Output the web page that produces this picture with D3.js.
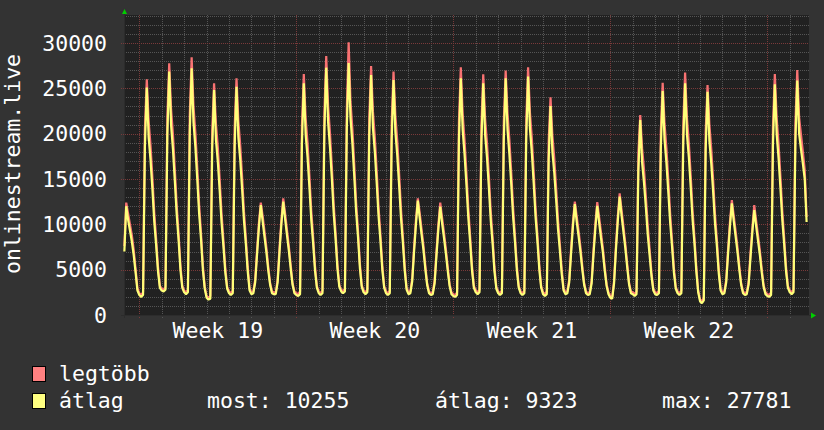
<!DOCTYPE html>
<html>
<head>
<meta charset="utf-8">
<script src="https://cdn.jsdelivr.net/npm/d3@7"></script>
<style>
  body { margin: 0; background: #333333; }
  svg { display: block; font-family: "DejaVu Sans Mono", monospace; }
</style>
</head>
<body>
<div id="chart"></div>
<script>
// time window of the graph and the sampling of the series (2 h steps)
const viewStart = Date.UTC(2015, 4, 3, 7, 37);
const viewEnd = Date.UTC(2015, 5, 2, 20, 34);
const seriesStart = Date.UTC(2015, 4, 3, 8, 0);
const stepHours = 2;

// "legtöbb" = max, one line per day (00h..22h, every 2 h)
const legtobb = [
  7600, 12400, 11200, 10000, 8800, 7200, 5100, 2900,                            // May 3 (from 08h)
  2400, 2200, 2500, 20600, 26000, 21400, 18700, 15200, 11300, 8400, 5300, 3200, // May 4
  2900, 2800, 3100, 21900, 27760, 22700, 19900, 16100, 12100, 9000, 5500, 3200, // May 5
  2700, 2500, 2800, 22100, 28420, 23000, 20100, 16300, 12200, 9100, 5500, 3100, // May 6
  2100, 1900, 2100, 20400, 25550, 21100, 18500, 15000, 11200, 8300, 5200, 3100, // May 7
  2600, 2400, 2700, 20600, 26100, 21400, 18700, 15200, 11400, 8500, 5300, 2900, // May 8
  2500, 2600, 3900, 7200, 10200, 12390, 10900, 9200, 7400, 5300, 3500, 2600,    // May 9
  2500, 2500, 3900, 7400, 10500, 12870, 11200, 9400, 7600, 5500, 3500, 2600,    // May 10
  2400, 2300, 2600, 20900, 26580, 21700, 19000, 15400, 11500, 8600, 5400, 3200, // May 11
  2600, 2400, 2700, 22200, 28570, 23100, 20100, 16400, 12200, 9100, 5600, 3300, // May 12
  2800, 2600, 2900, 22600, 30080, 23500, 20500, 16600, 12400, 9300, 5700, 3300, // May 13
  2700, 2500, 2800, 21600, 27460, 22400, 19600, 15900, 11900, 8900, 5500, 3200, // May 14
  2600, 2400, 2700, 21200, 26840, 22000, 19200, 15600, 11700, 8700, 5400, 3000, // May 15
  2500, 2600, 4000, 7500, 10500, 12870, 11300, 9500, 7700, 5500, 3500, 2600,    // May 16
  2400, 2500, 3800, 7100, 10000, 12390, 10700, 9100, 7300, 5300, 3400, 2500,    // May 17
  2300, 2200, 2500, 21300, 27310, 22200, 19300, 15700, 11800, 8700, 5400, 3200, // May 18
  2700, 2500, 2800, 20900, 26540, 21700, 19000, 15400, 11500, 8600, 5300, 3100, // May 19
  2600, 2400, 2700, 21300, 26950, 22200, 19300, 15700, 11800, 8700, 5400, 3200, // May 20
  2600, 2400, 2700, 21500, 27310, 22300, 19500, 15800, 11800, 8800, 5500, 3200, // May 21
  2500, 2300, 2600, 19100, 24010, 19800, 17300, 14000, 10500, 7800, 5000, 2900, // May 22
  2500, 2600, 3900, 7300, 10300, 12500, 10900, 9300, 7500, 5400, 3500, 2600,    // May 23
  2400, 2500, 3800, 7200, 10100, 12450, 10800, 9100, 7400, 5300, 3400, 2500,    // May 24
  2100, 2000, 3800, 7700, 10900, 13420, 11600, 9800, 7900, 5700, 3600, 2600,    // May 25
  2500, 2300, 2600, 17900, 22060, 18400, 16100, 13100, 9900, 7300, 4700, 2900,  // May 26
  2500, 2400, 2700, 20300, 25620, 21100, 18400, 14900, 11200, 8300, 5200, 3100, // May 27
  2600, 2400, 2700, 20900, 26730, 21700, 19000, 15400, 11500, 8600, 5300, 2700, // May 28
  1700, 1500, 1900, 20200, 25370, 21000, 18300, 14900, 11100, 8300, 5100, 2900, // May 29
  2500, 2600, 3900, 7300, 10300, 12680, 11000, 9300, 7500, 5400, 3500, 2600,    // May 30
  2400, 2500, 3700, 6900, 9700, 12130, 10400, 8800, 7100, 5100, 3300, 2500,     // May 31
  2300, 2200, 2500, 20800, 26580, 21700, 18900, 15300, 11500, 8500, 5300, 3200, // Jun 1
  2700, 2500, 2800, 21100, 27020, 21800, 19900, 18000, 16000, 10800             // Jun 2 (to 18h)
];

// "átlag" = average
const atlag = [
  7000, 12000, 10500, 9300, 8100, 6600, 4700, 2700,                             // May 3 (from 08h)
  2200, 2000, 2200, 18600, 25100, 19600, 17100, 13900, 10300, 7700, 4800, 3000, // May 4
  2700, 2600, 2800, 19900, 26840, 20900, 18300, 14800, 11100, 8300, 5000, 3000, // May 5
  2500, 2300, 2500, 20100, 27200, 21200, 18500, 15000, 11200, 8400, 5000, 2900, // May 6
  1900, 1700, 1800, 18400, 24800, 19300, 16900, 13700, 10200, 7600, 4700, 2900, // May 7
  2400, 2200, 2400, 18600, 25180, 19600, 17100, 13900, 10400, 7800, 4800, 2700, // May 8
  2300, 2400, 3600, 6700, 9700, 12130, 10300, 8600, 6900, 4900, 3300, 2400,     // May 9
  2300, 2300, 3600, 6900, 10000, 12500, 10600, 8800, 7100, 5100, 3300, 2400,    // May 10
  2200, 2100, 2300, 18900, 25550, 19900, 17400, 14100, 10500, 7900, 4900, 3000, // May 11
  2400, 2200, 2400, 20200, 27280, 21300, 18500, 15100, 11200, 8400, 5100, 3100, // May 12
  2600, 2400, 2600, 20600, 27781, 21700, 18900, 15300, 11400, 8600, 5200, 3100, // May 13
  2500, 2300, 2500, 19600, 26470, 20600, 18000, 14600, 10900, 8200, 5000, 3000, // May 14
  2400, 2200, 2400, 19200, 25920, 20200, 17600, 14300, 10700, 8000, 4900, 2800, // May 15
  2300, 2400, 3700, 7000, 10000, 12610, 10700, 8900, 7200, 5100, 3300, 2400,    // May 16
  2200, 2300, 3500, 6600, 9500, 11950, 10100, 8500, 6800, 4900, 3200, 2300,     // May 17
  2100, 2000, 2200, 19300, 26100, 20400, 17700, 14400, 10800, 8000, 4900, 3000, // May 18
  2500, 2300, 2500, 18900, 25550, 19900, 17400, 14100, 10500, 7900, 4800, 2900, // May 19
  2400, 2200, 2400, 19300, 26100, 20400, 17700, 14400, 10800, 8000, 4900, 3000, // May 20
  2400, 2200, 2400, 19500, 26290, 20500, 17900, 14500, 10800, 8100, 5000, 3000, // May 21
  2300, 2100, 2300, 17100, 23050, 18000, 15700, 12700, 9500, 7100, 4500, 2700,  // May 22
  2300, 2400, 3600, 6800, 9800, 12240, 10300, 8700, 7000, 5000, 3300, 2400,     // May 23
  2200, 2300, 3500, 6700, 9600, 12050, 10200, 8500, 6900, 4900, 3200, 2300,     // May 24
  1900, 1800, 3500, 7200, 10400, 13050, 11000, 9200, 7400, 5300, 3400, 2400,    // May 25
  2300, 2100, 2300, 15900, 21510, 16800, 14600, 11900, 8900, 6600, 4300, 2700,  // May 26
  2300, 2200, 2400, 18300, 24710, 19300, 16800, 13600, 10200, 7600, 4700, 2900, // May 27
  2400, 2200, 2400, 18900, 25550, 19900, 17400, 14100, 10500, 7900, 4800, 2500, // May 28
  1500, 1300, 1600, 18200, 24630, 19200, 16700, 13600, 10100, 7600, 4600, 2700, // May 29
  2300, 2400, 3600, 6800, 9800, 12320, 10400, 8700, 7000, 5000, 3300, 2400,     // May 30
  2200, 2300, 3400, 6400, 9200, 11580, 9800, 8200, 6600, 4700, 3100, 2300,      // May 31
  2100, 2000, 2200, 18800, 25450, 19900, 17300, 14000, 10500, 7800, 4800, 3000, // Jun 1
  2500, 2300, 2500, 19100, 25850, 20000, 18300, 16700, 15000, 10255             // Jun 2 (to 18h)
];

const yLabelValues = [0, 5000, 10000, 15000, 20000, 25000, 30000];
const seriesNames = ["legtöbb", "átlag"];
const seriesColors = ["#ff8080", "#ffff80"];
const lineColors = ["#f87272", "#ffff78"];
const statNames = ["most", "átlag", "max"];
const statValues = [10255, 9323, 27781];

const W = 824, H = 430;
const plot = {left: 124, right: 809, top: 15, bottom: 315};

const svg = d3.select("#chart").append("svg")
    .attr("width", W)
    .attr("height", H);

svg.append("rect").attr("width", W).attr("height", H).attr("fill", "#333333");
svg.append("rect")
    .attr("x", plot.left).attr("y", plot.top)
    .attr("width", plot.right - plot.left).attr("height", plot.bottom - plot.top)
    .attr("fill", "#212121");

const x = d3.scaleUtc().domain([viewStart, viewEnd]).range([plot.left, plot.right]);
const y = d3.scaleLinear().domain([0, 30000]).range([plot.bottom, 43]);

const yTop = y.invert(plot.top);
const px = v => Math.round(v) + 0.5;

// horizontal grid
const grid = svg.append("g").attr("shape-rendering", "crispEdges");
const minorY = d3.range(1000, yTop, 1000).filter(v => v % 5000 !== 0);
const majorY = d3.range(5000, yTop, 5000);

grid.selectAll("line.hmin").data(minorY).join("line")
    .attr("x1", plot.left).attr("x2", plot.right)
    .attr("y1", d => px(y(d))).attr("y2", d => px(y(d)))
    .attr("stroke", "#555555").attr("stroke-dasharray", "1,1");

// vertical grid: days and weeks
const days = d3.utcDay.range(new Date(viewStart), new Date(viewEnd));
const mondays = d3.utcMonday.range(new Date(viewStart), new Date(viewEnd));
const isMonday = d => d.getUTCDay() === 1;

grid.selectAll("line.vmin").data(days.filter(d => !isMonday(d))).join("line")
    .attr("x1", d => px(x(d))).attr("x2", d => px(x(d)))
    .attr("y1", plot.top).attr("y2", plot.bottom + 3)
    .attr("stroke", "#555555").attr("stroke-dasharray", "1,1");

grid.selectAll("line.hmaj").data(majorY).join("line")
    .attr("x1", plot.left - 3).attr("x2", plot.right)
    .attr("y1", d => px(y(d))).attr("y2", d => px(y(d)))
    .attr("stroke", "#7a3a3a").attr("stroke-dasharray", "1,1");

grid.selectAll("line.vmaj").data(mondays).join("line")
    .attr("x1", d => px(x(d))).attr("x2", d => px(x(d)))
    .attr("y1", plot.top).attr("y2", plot.bottom + 3)
    .attr("stroke", "#7a3a3a").attr("stroke-dasharray", "1,1");

// axis lines
grid.append("line")
    .attr("x1", plot.left - 3).attr("x2", plot.right + 2)
    .attr("y1", plot.bottom + 0.5).attr("y2", plot.bottom + 0.5)
    .attr("stroke", "#2c2c2c");
grid.append("line")
    .attr("x1", plot.left + 0.5).attr("x2", plot.left + 0.5)
    .attr("y1", plot.top - 2).attr("y2", plot.bottom + 3)
    .attr("stroke", "#2c2c2c");

// arrows
svg.append("path")
    .attr("d", `M${plot.left - 2},${plot.top - 1}L${plot.left + 3},${plot.top - 1}L${plot.left + 0.5},${plot.top - 6}Z`)
    .attr("fill", "#00d000");
svg.append("path")
    .attr("d", `M${plot.right + 2},${plot.bottom - 2.5}L${plot.right + 2},${plot.bottom + 3.5}L${plot.right + 7},${plot.bottom + 0.5}Z`)
    .attr("fill", "#00d000");

// y labels
svg.append("g").selectAll("text").data(yLabelValues).join("text")
    .attr("x", 107).attr("y", d => y(d) + 7.5)
    .attr("text-anchor", "end")
    .attr("font-size", 21.5).attr("fill", "#ffffff")
    .text(d => d);

// week labels, centred in each week
const weekFmt = d3.utcFormat("%V");
const weeks = mondays
    .map(m => ({label: "Week " + weekFmt(m), mid: d3.utcHour.offset(m, 84)}))
    .filter(w => +w.mid < viewEnd);

svg.append("g").selectAll("text").data(weeks).join("text")
    .attr("x", d => x(d.mid)).attr("y", 338)
    .attr("text-anchor", "middle")
    .attr("font-size", 21.5).attr("fill", "#ffffff")
    .text(d => d.label);

// vertical title
svg.append("text")
    .attr("transform", "translate(20,164) rotate(-90)")
    .attr("text-anchor", "middle")
    .attr("font-size", 21.5).attr("fill", "#ffffff")
    .text("onlinestream.live");

// series
const timeAt = i => new Date(seriesStart + i * stepHours * 3600e3);
const line = d3.line()
    .x((d, i) => x(timeAt(i)))
    .y(d => y(d))
    .curve(d3.curveLinear);

[legtobb, atlag].forEach((s, k) => {
  svg.append("path")
      .datum(s)
      .attr("d", line)
      .attr("fill", "none")
      .attr("stroke", lineColors[k])
      .attr("stroke-width", 2.2)
      .attr("stroke-linejoin", "bevel");
});

// legend
const legend = svg.append("g");
seriesNames.forEach((name, k) => {
  const ty = 381 + k * 27;
  legend.append("rect")
      .attr("x", 32.5).attr("y", ty - 14.5)
      .attr("width", 13).attr("height", 15)
      .attr("fill", seriesColors[k]).attr("stroke", "#000000");
  legend.append("text")
      .attr("x", 59).attr("y", ty)
      .attr("font-size", 21.5).attr("fill", "#ffffff")
      .text(name);
});

const statX = [207, 435, 662];
statNames.forEach((name, k) => {
  legend.append("text")
      .attr("x", statX[k]).attr("y", 408)
      .attr("font-size", 21.5).attr("fill", "#ffffff")
      .text(name + ": " + statValues[k]);
});
</script>
</body>
</html>
